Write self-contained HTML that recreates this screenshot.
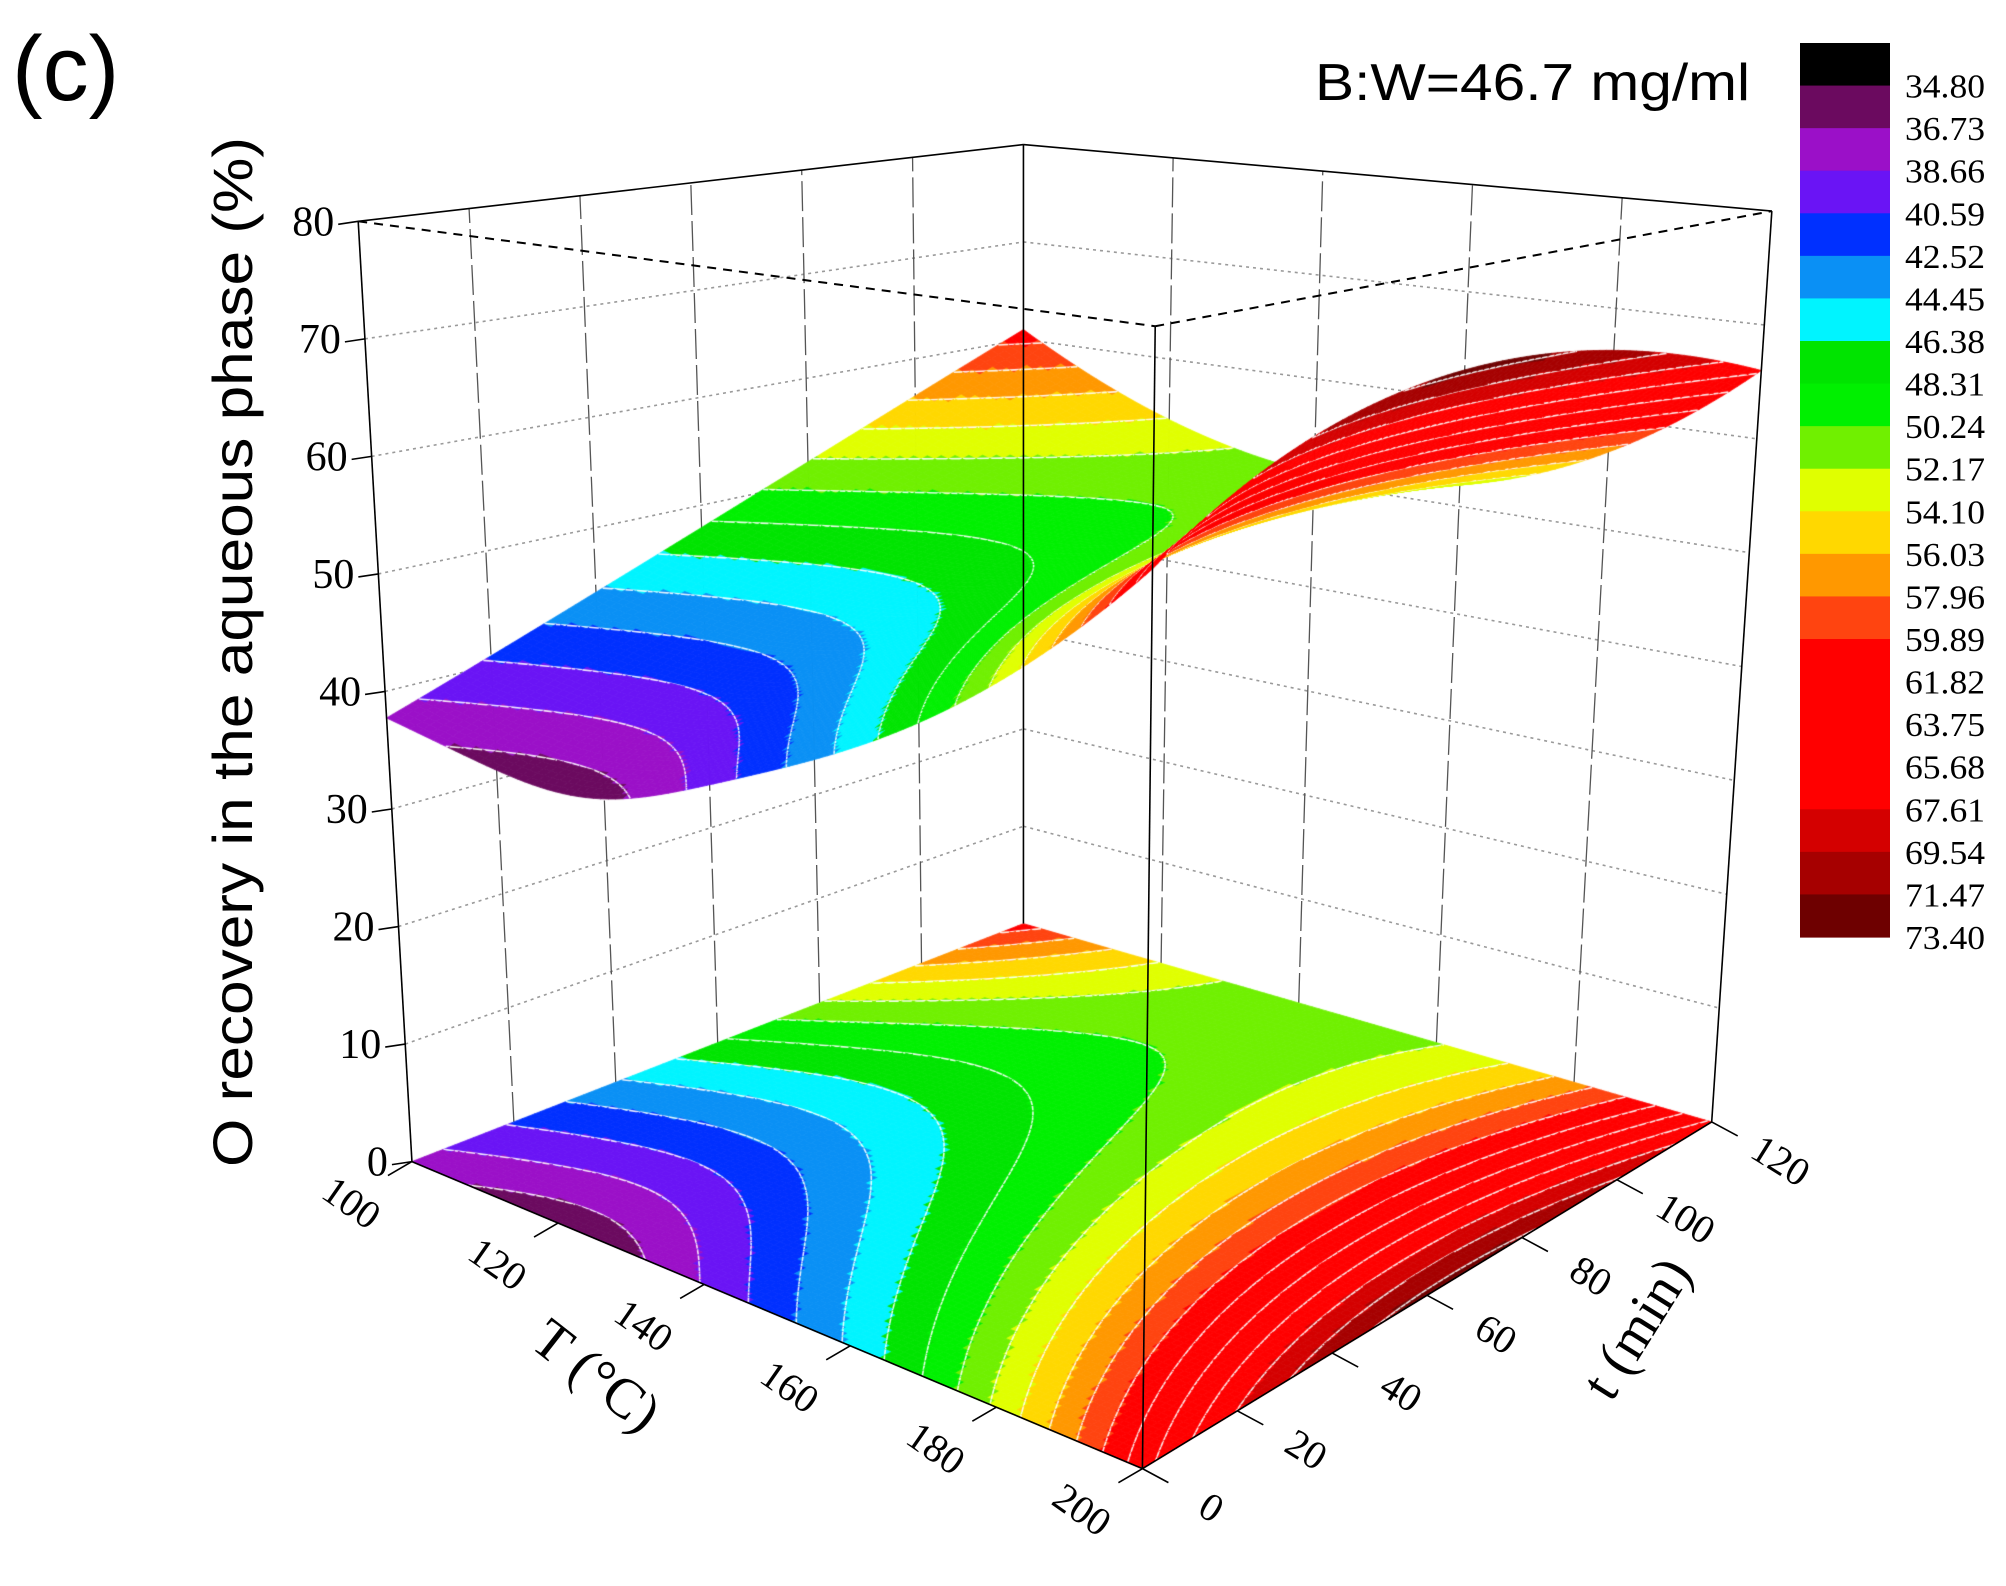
<!DOCTYPE html>
<html><head><meta charset="utf-8">
<style>
html,body{margin:0;padding:0;background:#fff;}
#wrap{position:relative;width:2006px;height:1586px;overflow:hidden;background:#fff;}
svg,canvas{position:absolute;left:0;top:0;}
</style></head>
<body><div id="wrap">
<svg id="under" width="2006" height="1586"></svg>
<canvas id="cv" width="2006" height="1586"></canvas>
<svg id="over" width="2006" height="1586" font-family="'Liberation Serif', serif">
<text x="12" y="100" font-family="'Liberation Sans', sans-serif" font-size="92">(c)</text>
<text x="1315" y="100" font-family="'Liberation Sans', sans-serif" font-size="52" textLength="435" lengthAdjust="spacingAndGlyphs">B:W=46.7 mg/ml</text>
<text transform="translate(252,652) rotate(-90)" text-anchor="middle" font-family="'Liberation Sans', sans-serif" font-size="56" textLength="1030" lengthAdjust="spacingAndGlyphs">O recovery in the aqueous phase (%)</text>
<text transform="translate(585,1390) rotate(38)" text-anchor="middle" font-family="'Liberation Serif', serif" font-size="56">T (°C)</text>
<text transform="translate(1652,1338) rotate(-58)" text-anchor="middle" font-family="'Liberation Serif', serif" font-size="56">t (min)</text>
</svg>
</div>
<script>
(function(){
const S=1.2793;
const s=p=>[p[0]*S,p[1]*S];
const bL=s([322,908]),bF=s([893,1148]),bR=s([1338,877]),bB=s([800,722]);
const tL=s([280,173]),tF=s([903,255]),tR=s([1385,165]),tB=s([800,113]);
function bil(A,B,C,D,x,y){
 return [A[0]*(1-x)*(1-y)+B[0]*x*(1-y)+C[0]*x*y+D[0]*(1-x)*y,
         A[1]*(1-x)*(1-y)+B[1]*x*(1-y)+C[1]*x*y+D[1]*(1-x)*y];}
function P(x,y,z){const w=z/80;const b=bil(bL,bF,bR,bB,x,y),t=bil(tL,tF,tR,tB,x,y);
 return [b[0]*(1-w)+t[0]*w,b[1]*(1-w)+t[1]*w];}
const G=[[38,42,63],[48,50,72],[61,51,66]];
function Lg(k,u){return k==0?u*(u-1)/2:(k==1?1-u*u:u*(u+1)/2);}
function f(x,y){const X=2*x-1,Y=2*y-1;let z=0;for(let j=0;j<3;j++)for(let i=0;i<3;i++)z+=Lg(i,X)*Lg(j,Y)*G[j][i];
 z-=2.2*Math.exp(-Math.pow((x-0.25)/0.17,2))*(1-y)*(1-y);return z;}
const cols=['#000000','#6b0a5f','#9b10c8','#6a14f5','#0030ff','#0a90f5','#00f4ff','#00e400','#00f000','#70f000','#e0ff00','#ffd800','#ff9800','#ff4410','#ff0000','#ff0000','#ff0000','#ff0000','#d40000','#a60000','#6e0000'];
function ci(z){let k=Math.ceil((z-34.8)/1.93);return Math.max(0,Math.min(20,k));}
const NS='http://www.w3.org/2000/svg';
function line(svg,a,b,st){const l=document.createElementNS(NS,'line');l.setAttribute('x1',a[0]);l.setAttribute('y1',a[1]);l.setAttribute('x2',b[0]);l.setAttribute('y2',b[1]);for(const k in st)l.setAttribute(k,st[k]);svg.appendChild(l);}
function text(svg,x,y,str,attrs){const t=document.createElementNS(NS,'text');t.setAttribute('x',x);t.setAttribute('y',y);for(const k in attrs)t.setAttribute(k,attrs[k]);t.textContent=str;svg.appendChild(t);}
const U=document.getElementById('under'),O=document.getElementById('over');
const gst={stroke:'#9a9a9a','stroke-width':1.6,'stroke-dasharray':'3 4'};
const vst={stroke:'#555','stroke-width':1.3,'stroke-dasharray':'30 6'};
for(let z=10;z<80;z+=10){line(U,P(0,0,z),P(0,1,z),gst);line(U,P(0,1,z),P(1,1,z),gst);}
for(let k=1;k<6;k++){line(U,P(0,k/6,0),P(0,k/6,80),vst);}
for(let k=1;k<5;k++){line(U,P(k/5,1,0),P(k/5,1,80),vst);}
const c=document.getElementById('cv').getContext('2d');
const N=100;
function drawField(zfun){
 const cells=[];
 for(let i=0;i<N;i++)for(let j=0;j<N;j++)cells.push([i,j]);
 cells.sort((a,b)=>(a[0]-a[1])-(b[0]-b[1]));
 for(const [i,j] of cells){
  const x0=i/N,x1=(i+1)/N,y0=j/N,y1=(j+1)/N;
  const v=[f(x0,y0),f(x1,y0),f(x1,y1),f(x0,y1)];
  const pts=[[x0,y0],[x1,y0],[x1,y1],[x0,y1]].map((q,k)=>P(q[0],q[1],zfun(v[k])));
  const col=cols[ci(f((x0+x1)/2,(y0+y1)/2))];
  c.beginPath();c.moveTo(pts[0][0],pts[0][1]);for(let k=1;k<4;k++)c.lineTo(pts[k][0],pts[k][1]);c.closePath();
  c.fillStyle=col;c.strokeStyle=col;c.lineWidth=0.8;c.fill();c.stroke();
  const mn=Math.min(...v),mx=Math.max(...v);
  for(let L=1;L<=20;L++){const lev=34.8+1.93*L;
   if(lev<=mn||lev>=mx)continue;
   const cr=[];
   for(let k=0;k<4;k++){const a=v[k],b=v[(k+1)%4];if((a-lev)*(b-lev)<0){const t=(lev-a)/(b-a);cr.push([pts[k][0]+(pts[(k+1)%4][0]-pts[k][0])*t,pts[k][1]+(pts[(k+1)%4][1]-pts[k][1])*t]);}}
   if(cr.length>=2){c.beginPath();c.moveTo(cr[0][0],cr[0][1]);c.lineTo(cr[1][0],cr[1][1]);if(cr.length==4){c.moveTo(cr[2][0],cr[2][1]);c.lineTo(cr[3][0],cr[3][1]);}
    c.strokeStyle='rgba(255,255,255,0.9)';c.lineWidth=1.6;c.stroke();}
  }
 }
}
drawField(z=>0);
drawField(z=>z);
const sol={stroke:'#000','stroke-width':1.6};
const dsh={stroke:'#000','stroke-width':2,'stroke-dasharray':'9 7'};
line(O,bL,bF,sol);line(O,bF,bR,sol);line(O,bL,tL,sol);line(O,bB,tB,sol);line(O,bR,tR,sol);
line(O,tL,tB,sol);line(O,tB,tR,sol);line(O,tF,bF,sol);
line(O,tL,tF,dsh);line(O,tF,tR,dsh);
for(let z=0;z<=80;z+=10){const p=P(0,0,z);line(O,p,[p[0]-20,p[1]+3],sol);
 text(O,p[0]-24,p[1]+14,String(z),{'text-anchor':'end','font-size':42});}
for(let k=0;k<=5;k++){const p=P(k/5,0,0);line(O,p,[p[0]-24,p[1]+14],sol);
 const tx=p[0]-68,ty=p[1]+52;text(O,0,0,String(100+20*k),{'font-size':40,'text-anchor':'middle',transform:'translate('+tx+','+ty+') rotate(35)'});}
for(let k=0;k<=6;k++){const p=P(1,k/6,0);line(O,p,[p[0]+26,p[1]+14],sol);
 const tx=p[0]+62,ty=p[1]+50;text(O,0,0,String(20*k),{'font-size':40,'text-anchor':'middle',transform:'translate('+tx+','+ty+') rotate(32)'});}
const labs=['34.80','36.73','38.66','40.59','42.52','44.45','46.38','48.31','50.24','52.17','54.10','56.03','57.96','59.89','61.82','63.75','65.68','67.61','69.54','71.47','73.40'];
const cbTop=43,bh=(937-43)/21;
for(let k=0;k<21;k++){const r=document.createElementNS(NS,'rect');r.setAttribute('x',1800);r.setAttribute('y',cbTop+k*bh);r.setAttribute('width',90);r.setAttribute('height',bh+0.6);r.setAttribute('fill',cols[k]);O.appendChild(r);
 text(O,1905,cbTop+(k+1)*bh+12,labs[k],{'font-size':34,textLength:80,lengthAdjust:'spacingAndGlyphs'});}
})();
</script>
</body></html>
